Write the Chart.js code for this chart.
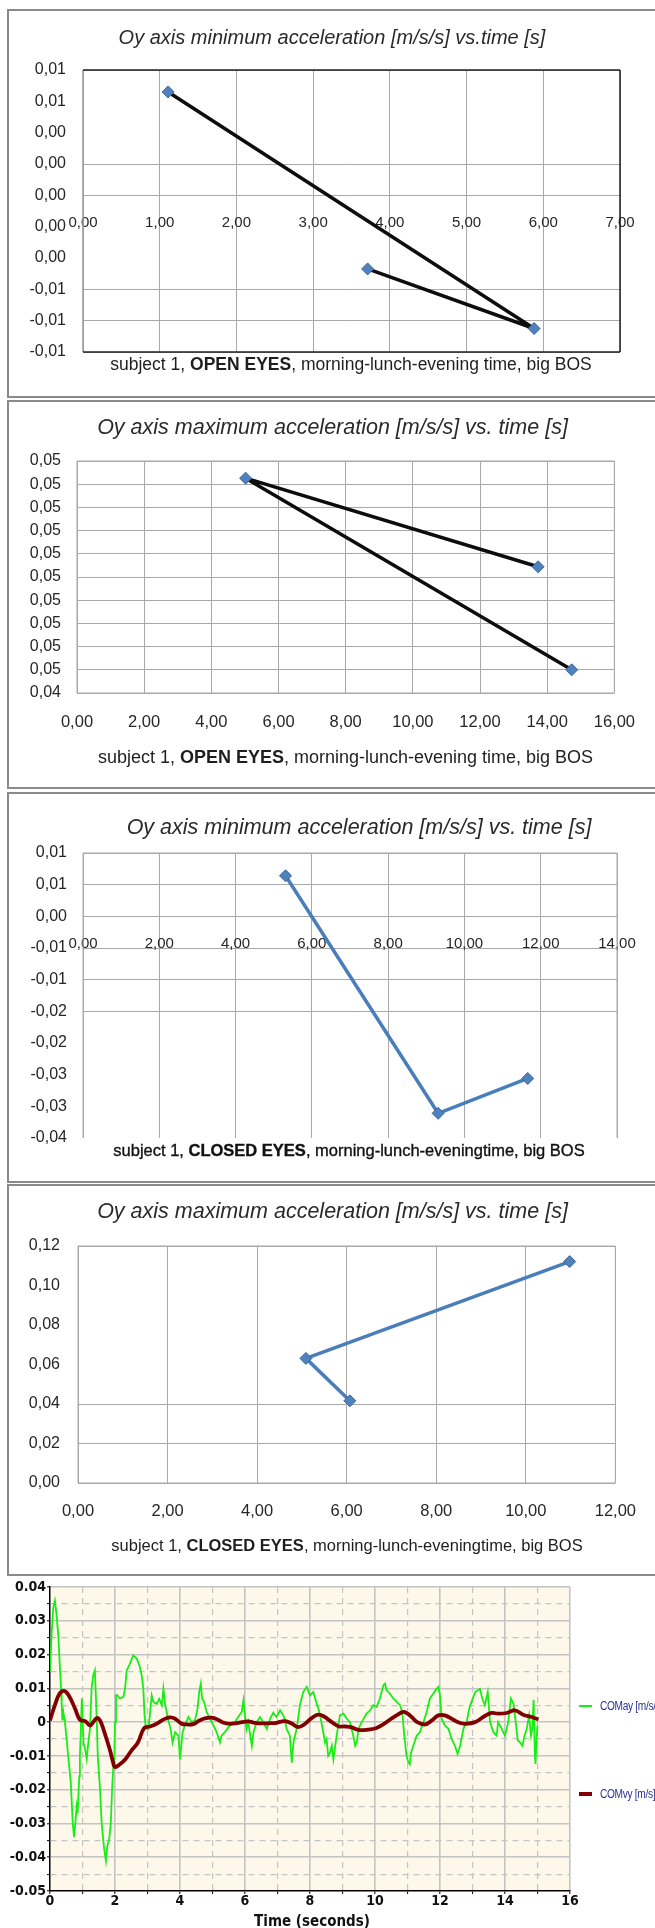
<!DOCTYPE html>
<html>
<head>
<meta charset="utf-8">
<script src="https://cdn.jsdelivr.net/npm/chart.js@4.4.1/dist/chart.umd.min.js"></script>
<style>
  html, body { margin: 0; padding: 0; background: #fff; }
  body { width: 655px; height: 1928px; position: relative; overflow: hidden;
         font-family: "Liberation Sans", Arial, sans-serif; }
  .panel { position: absolute; left: 7px; width: 720px; box-sizing: border-box;
           border: 2px solid #8a8a8a; }
  canvas { position: absolute; left: 0; }
  .txt { position: absolute; white-space: nowrap; text-align: center; line-height: 1; color: #1e1e1e; }
  .leg { position: absolute; white-space: nowrap; line-height: 1; color: #2b3391; font-size: 13px;
         font-family: "Liberation Sans", Arial, sans-serif; letter-spacing: -0.4px;
         transform: scaleX(0.78); transform-origin: 0 50%; }
  .legline { position: absolute; }
</style>
</head>
<body>
<script>
// ---- Subject 1, Oy axis extremes per session (morning / lunch / evening) ----
const openMinTime = [1.11, 5.88, 3.71];
const openMinAcc = [0.0066, -0.0085, -0.0047];

const openMaxTime = [13.73, 5.02, 14.73];
const openMaxAcc = [0.04722, 0.04913, 0.0450];

const closedMinTime = [5.31, 9.31, 11.66];
const closedMinAcc = [0.0064, -0.0311, -0.0256];

const closedMaxTime = [6.07, 5.09, 10.98];
const closedMaxAcc = [0.0416, 0.0631, 0.1121];

// ---- axis ticks and the labels printed next to them (bottom to top / left to right) ----
const openMinYTicks = [-0.010, -0.008, -0.006, -0.004, -0.002, 0, 0.002, 0.004, 0.006, 0.008];
const openMinYLabels = ['-0,01', '-0,01', '-0,01', '0,00', '0,00', '0,00', '0,00', '0,00', '0,01', '0,01'];
const openMinXTicks = [0, 1, 2, 3, 4, 5, 6, 7];
const openMinXLabels = ['0,00', '1,00', '2,00', '3,00', '4,00', '5,00', '6,00', '7,00'];

const openMaxYTicks = [0.0445, 0.0450, 0.0455, 0.0460, 0.0465, 0.0470, 0.0475, 0.0480, 0.0485, 0.0490, 0.0495];
const openMaxYLabels = ['0,04', '0,05', '0,05', '0,05', '0,05', '0,05', '0,05', '0,05', '0,05', '0,05', '0,05'];
const openMaxXTicks = [0, 2, 4, 6, 8, 10, 12, 14, 16];
const openMaxXLabels = ['0,00', '2,00', '4,00', '6,00', '8,00', '10,00', '12,00', '14,00', '16,00'];

const closedMinYTicks = [-0.035, -0.030, -0.025, -0.020, -0.015, -0.010, -0.005, 0, 0.005, 0.010];
const closedMinYLabels = ['-0,04', '-0,03', '-0,03', '-0,02', '-0,02', '-0,01', '-0,01', '0,00', '0,01', '0,01'];
const closedMinXTicks = [0, 2, 4, 6, 8, 10, 12, 14];
const closedMinXLabels = ['0,00', '2,00', '4,00', '6,00', '8,00', '10,00', '12,00', '14,00'];

const closedMaxYTicks = [0, 0.02, 0.04, 0.06, 0.08, 0.10, 0.12];
const closedMaxYLabels = ['0,00', '0,02', '0,04', '0,06', '0,08', '0,10', '0,12'];
const closedMaxXTicks = [0, 2, 4, 6, 8, 10, 12];
const closedMaxXLabels = ['0,00', '2,00', '4,00', '6,00', '8,00', '10,00', '12,00'];

// ---- centre of mass trace, 15 s recording ----
const ayTime = [0.00,0.05,0.10,0.15,0.20,0.26,0.30,0.34,0.36,0.38,0.41,0.44,0.46,0.51,0.56,0.60,0.64,0.70,0.74,0.78,
  0.82,0.85,0.90,0.92,0.95,0.98,1.00,1.03,1.08,1.13,1.18,1.23,1.28,1.33,1.38,1.41,1.44,1.47,1.54,1.59,
  1.66,1.72,1.76,1.83,1.87,1.91,1.95,1.98,2.00,2.03,2.07,2.15,2.26,2.31,2.36,2.46,2.56,2.67,2.75,2.82,
  2.87,2.91,2.95,3.03,3.13,3.18,3.28,3.36,3.44,3.49,3.54,3.59,3.64,3.71,3.77,3.85,3.95,4.00,4.08,4.15,
  4.26,4.36,4.46,4.54,4.59,4.64,4.68,4.74,4.82,4.92,5.03,5.13,5.23,5.28,5.38,5.49,5.59,5.69,5.79,5.90,
  5.95,6.00,6.05,6.10,6.21,6.26,6.36,6.46,6.56,6.67,6.77,6.87,6.97,7.08,7.18,7.23,7.28,7.38,7.44,7.49,
  7.59,7.69,7.79,7.90,8.00,8.10,8.21,8.26,8.31,8.41,8.46,8.51,8.56,8.62,8.67,8.72,8.82,8.92,9.03,9.13,
  9.23,9.33,9.39,9.44,9.49,9.59,9.74,9.85,9.95,10.05,10.15,10.26,10.31,10.36,10.46,10.56,10.67,10.77,10.84,10.90,
  10.97,11.03,11.07,11.11,11.18,11.28,11.38,11.49,11.59,11.69,11.79,11.90,11.95,12.00,12.05,12.15,12.26,12.36,12.46,12.54,
  12.62,12.72,12.82,12.90,12.97,13.08,13.16,13.23,13.30,13.38,13.47,13.54,13.64,13.74,13.79,13.90,14.00,14.10,14.18,14.26,
  14.33,14.39,14.46,14.54,14.60,14.67,14.74,14.80,14.84,14.88,14.92,14.94,14.97,15.00];
const ayValues = [0.015,0.026,0.034,0.036,0.032,0.025,0.017,0.010,0.005,0.0005,0.003,0.001,0.0,-0.005,-0.0102,-0.014,-0.018,-0.030,-0.034,-0.030,
  -0.025,-0.027,-0.016,-0.010,-0.002,0.007,0.002,-0.006,-0.008,-0.011,-0.006,-0.002,0.010,0.0139,0.0153,0.008,0.0,-0.010,-0.020,-0.030,
  -0.037,-0.041,-0.037,-0.034,-0.030,-0.020,-0.013,-0.010,0.0,0.008,0.008,0.007,0.0075,0.010,0.0153,0.0173,0.0198,0.0188,0.0168,0.0139,
  0.010,0.002,-0.002,-0.002,0.0079,0.006,0.0054,0.0069,0.005,0.0099,0.0054,0.003,0.0005,-0.002,-0.006,-0.003,-0.004,-0.011,-0.003,-0.001,
  0.0015,0.0,0.0005,0.004,0.0089,0.0114,0.007,0.006,0.003,0.001,-0.001,-0.003,-0.006,-0.004,-0.003,-0.0015,-0.0005,0.0,0.0015,0.003,
  0.0064,0.002,-0.002,0.0,-0.007,-0.003,0.0,0.0015,0.0,-0.002,0.001,0.0028,0.0015,0.0035,0.002,0.0005,-0.002,-0.004,-0.012,-0.006,
  -0.002,0.005,0.0089,0.0104,0.0079,0.0089,0.0054,0.004,0.002,-0.003,-0.006,-0.005,-0.010,-0.009,-0.007,-0.011,-0.004,0.002,0.0025,0.001,
  0.0,-0.004,-0.007,-0.006,-0.002,0.0,0.0025,0.0035,0.005,0.0045,0.007,0.0109,0.0114,0.0094,0.0084,0.007,0.006,0.005,0.003,-0.004,
  -0.010,-0.012,-0.0125,-0.009,-0.007,-0.004,-0.003,0.0,0.003,0.007,0.0084,0.0099,0.0104,0.0079,0.001,-0.001,-0.002,-0.005,-0.007,-0.0094,
  -0.007,-0.002,0.0,0.004,0.006,0.0089,0.0094,0.0099,0.007,0.005,0.0089,0.0,-0.003,-0.004,0.0,-0.002,-0.004,0.0,0.007,0.0054,
  0.0,-0.0054,-0.006,-0.007,-0.004,-0.002,0.002,-0.004,-0.002,0.0066,-0.010,-0.0124,-0.005,-0.001];

const vyTime = [0.00,0.15,0.30,0.45,0.60,0.77,0.92,1.08,1.23,1.33,1.44,1.54,1.64,1.74,1.85,1.93,2.00,2.15,2.32,2.50,
  2.70,2.90,3.08,3.28,3.50,3.69,3.85,4.05,4.20,4.41,4.60,4.80,4.97,5.15,5.35,5.54,5.75,5.90,6.10,6.30,
  6.56,6.80,6.97,7.23,7.45,7.64,7.85,8.05,8.26,8.46,8.60,8.87,9.08,9.26,9.49,9.80,10.03,10.20,10.50,10.70,
  10.87,11.00,11.13,11.30,11.54,11.75,11.95,12.15,12.41,12.60,12.77,13.08,13.38,13.59,13.79,14.05,14.30,14.56,14.82,15.03];
const vyValues = [0.0005,0.005,0.0085,0.0092,0.0075,0.004,0.0007,0.0003,-0.001,0.0,0.0012,0.0005,-0.002,-0.005,-0.0085,-0.0115,-0.0133,-0.0125,-0.011,-0.0085,
  -0.0061,-0.0017,-0.0013,-0.0005,0.0008,0.0014,0.001,-0.0005,-0.0007,-0.0006,0.0005,0.0012,0.0013,0.0008,-0.0002,-0.0005,-0.0003,0.0,0.0002,-0.0002,
  -0.0004,-0.0003,-0.0002,0.0003,-0.0005,-0.0015,-0.0005,0.0012,0.0022,0.0015,0.0005,-0.0012,-0.0013,-0.0015,-0.0023,-0.0022,-0.0018,-0.001,0.001,0.0022,
  0.003,0.0025,0.0015,0.0,-0.0007,0.0005,0.002,0.002,0.0007,-0.0002,-0.0005,0.0,0.0018,0.0027,0.0025,0.0027,0.0035,0.0022,0.0015,0.0008];

const comYTicks = [-0.05,-0.045,-0.04,-0.035,-0.03,-0.025,-0.02,-0.015,-0.01,-0.005,0,0.005,0.01,0.015,0.02,0.025,0.03,0.035,0.04];
const comYLabels = ['-0.05','','-0.04','','-0.03','','-0.02','','-0.01','','0','','0.01','','0.02','','0.03','','0.04'];
const comXTicks = [0,1,2,3,4,5,6,7,8,9,10,11,12,13,14,15,16];
const comXLabels = ['0','','2','','4','','6','','8','','10','','12','','14','','16'];

// ---------------------------------------------------------------------------
const W = 655;
const FONT = '"Liberation Sans", Arial, sans-serif';
const NARROW = '"Liberation Sans Narrow", "DejaVu Sans Condensed", "Liberation Sans", sans-serif';
const GRID = '#a9a9a9';
const TXT = '#262626';
const CLEAR = 'rgba(0,0,0,0)';

function addBox(top, height) {
  const d = document.createElement('div');
  d.className = 'panel';
  d.style.top = top + 'px';
  d.style.height = height + 'px';
  document.body.appendChild(d);
}

function addText(html, cx, cy, size, style) {
  const d = document.createElement('div');
  d.className = 'txt';
  d.innerHTML = html;
  d.style.left = (cx - 320) + 'px';
  d.style.width = '640px';
  d.style.top = (cy - size * 0.5) + 'px';
  d.style.fontSize = size + 'px';
  Object.assign(d.style, style || {});
  document.body.appendChild(d);
}

function mount(top, height) {
  const c = document.createElement('canvas');
  c.width = W;
  c.height = height;
  c.style.top = top + 'px';
  document.body.appendChild(c);
  return c.getContext('2d');
}

const pts = (xs, ys) => xs.map((x, i) => ({ x, y: ys[i] }));
const fixedTicks = values => scale => { scale.ticks = values.map(v => ({ value: v })); };
function labelFor(values, labels) {
  return v => {
    let k = 0, best = Infinity;
    values.forEach((t, i) => { const e = Math.abs(t - v); if (e < best) { best = e; k = i; } });
    return labels[k];
  };
}

// fills the plot area and strokes the requested sides of its outline
function framePlugin(opts) {
  return {
    id: 'frame',
    beforeDraw(chart) {
      if (!opts.fill) return;
      const a = chart.chartArea, g = chart.ctx;
      g.save();
      g.fillStyle = opts.fill;
      g.fillRect(a.left, a.top, a.right - a.left, a.bottom - a.top);
      g.restore();
    },
    beforeDatasetsDraw(chart) {
      if (!opts.sides) return;
      const a = chart.chartArea, g = chart.ctx;
      const seg = { t: [a.left, a.top, a.right, a.top], b: [a.left, a.bottom, a.right, a.bottom],
                    l: [a.left, a.top, a.left, a.bottom], r: [a.right, a.top, a.right, a.bottom] };
      g.save();
      g.lineWidth = opts.width || 1;
      Object.keys(opts.sides).forEach(k => {
        const s = seg[k];
        g.strokeStyle = opts.sides[k];
        g.beginPath();
        g.moveTo(s[0], s[1]);
        g.lineTo(s[2], s[3]);
        g.stroke();
      });
      g.restore();
    }
  };
}

function excelPanel(p) {
  const ctx = mount(p.top, p.height);
  const bottomSpace = p.top + p.height - p.area.b;
  new Chart(ctx, {
    type: 'scatter',
    data: {
      datasets: [{
        data: pts(p.xData, p.yData),
        showLine: true,
        borderColor: p.lineColor,
        borderWidth: 3.5,
        borderJoinStyle: 'round',
        borderCapStyle: 'round',
        tension: 0,
        pointStyle: 'rectRot',
        pointRadius: 6,
        pointBackgroundColor: '#4f81bd',
        pointBorderColor: '#3a679c',
        pointBorderWidth: 1
      }]
    },
    options: {
      responsive: false,
      animation: false,
      devicePixelRatio: 1,
      layout: { padding: { left: 0, top: p.area.t - p.top, right: W - p.area.r, bottom: p.xAtZero ? bottomSpace : 0 } },
      plugins: { legend: { display: false }, tooltip: { enabled: false } },
      scales: {
        x: {
          type: 'linear',
          min: p.xTicks[0], max: p.xTicks[p.xTicks.length - 1],
          position: p.xAtZero ? { y: 0 } : 'bottom',
          afterBuildTicks: fixedTicks(p.xTicks),
          afterFit: s => { if (!p.xAtZero) s.height = bottomSpace; },
          grid: { color: GRID, lineWidth: 1, drawTicks: false },
          border: { display: false },
          ticks: { autoSkip: false, maxRotation: 0, padding: p.xPad, color: TXT,
                   font: { family: FONT, size: p.xFont }, callback: labelFor(p.xTicks, p.xLabels) }
        },
        y: {
          type: 'linear',
          min: p.yTicks[0], max: p.yTicks[p.yTicks.length - 1],
          position: 'left',
          afterBuildTicks: fixedTicks(p.yTicks),
          afterFit: s => { s.width = p.area.l; },
          grid: { color: c => (c.tick && p.yGrid[c.index]) ? GRID : CLEAR, lineWidth: 1, drawTicks: false },
          border: { display: false },
          ticks: { autoSkip: false, padding: p.yPad, color: TXT,
                   font: { family: FONT, size: 16 }, callback: labelFor(p.yTicks, p.yLabels) }
        }
      }
    },
    plugins: [framePlugin({ sides: p.frame, width: p.frameWidth || 1 })]
  });
}

// ---- panel 1 : open eyes, minimum ----
addBox(9, 389);
excelPanel({
  top: 9, height: 389, area: { l: 83, r: 620, t: 70, b: 352 },
  xData: openMinTime, yData: openMinAcc, lineColor: '#0d0d0d',
  xTicks: openMinXTicks, xLabels: openMinXLabels, xFont: 15, xPad: 19, xAtZero: true,
  yTicks: openMinYTicks, yLabels: openMinYLabels, yPad: 17,
  yGrid: [1, 1, 1, 0, 0, 1, 1, 0, 0, 1],
  frame: { l: '#9a9a9a', t: '#1f1f1f', r: '#1f1f1f', b: '#1f1f1f' }, frameWidth: 1.5
});
addText('Oy axis minimum acceleration [m/s/s] vs.time [s]', 332, 37, 20, { fontStyle: 'italic', color: '#2a2a2a' });
addText('subject 1, <b>OPEN EYES</b>, morning-lunch-evening time, big BOS', 351, 365, 17.5);

// ---- panel 2 : open eyes, maximum ----
addBox(400, 389);
excelPanel({
  top: 400, height: 389, area: { l: 77, r: 616, t: 461, b: 693 },
  xData: openMaxTime, yData: openMaxAcc, lineColor: '#0d0d0d',
  xTicks: openMaxXTicks, xLabels: openMaxXLabels, xFont: 16.5, xPad: 20, xAtZero: false,
  yTicks: openMaxYTicks, yLabels: openMaxYLabels, yPad: 16,
  yGrid: [1, 1, 1, 1, 1, 1, 1, 1, 1, 1, 1],
  frame: { l: GRID, t: GRID, r: GRID, b: GRID }
});
addText('Oy axis maximum acceleration [m/s/s] vs. time [s]', 332.5, 428, 21.5, { fontStyle: 'italic', color: '#2a2a2a' });
addText('subject 1, <b>OPEN EYES</b>, morning-lunch-evening time, big BOS', 345.5, 757, 18);

// ---- panel 3 : closed eyes, minimum ----
addBox(792, 391);
excelPanel({
  top: 792, height: 391, area: { l: 83, r: 617, t: 853, b: 1138 },
  xData: closedMinTime, yData: closedMinAcc, lineColor: '#4a7ebb',
  xTicks: closedMinXTicks, xLabels: closedMinXLabels, xFont: 15, xPad: 19, xAtZero: true,
  yTicks: closedMinYTicks, yLabels: closedMinYLabels, yPad: 16,
  yGrid: [0, 0, 0, 0, 1, 1, 1, 1, 1, 1],
  frame: { l: GRID, t: GRID, r: GRID }
});
addText('Oy axis minimum acceleration [m/s/s] vs. time [s]', 359, 828, 21.5, { fontStyle: 'italic', color: '#2a2a2a' });
addText('subject 1, <b>CLOSED EYES</b>, morning-lunch-eveningtime, big BOS', 349, 1150, 16.5,
        { color: '#111', webkitTextStroke: '0.35px #111' });

// ---- panel 4 : closed eyes, maximum ----
addBox(1184, 392);
excelPanel({
  top: 1184, height: 392, area: { l: 78, r: 616, t: 1246, b: 1483 },
  xData: closedMaxTime, yData: closedMaxAcc, lineColor: '#4a7ebb',
  xTicks: closedMaxXTicks, xLabels: closedMaxXLabels, xFont: 16.5, xPad: 19, xAtZero: false,
  yTicks: closedMaxYTicks, yLabels: closedMaxYLabels, yPad: 18,
  yGrid: [1, 1, 1, 0, 0, 0, 1],
  frame: { l: GRID, t: GRID, r: GRID, b: GRID }
});
addText('Oy axis maximum acceleration [m/s/s] vs. time [s]', 332.5, 1212, 21.5, { fontStyle: 'italic', color: '#2a2a2a' });
addText('subject 1, <b>CLOSED EYES</b>, morning-lunch-eveningtime, big BOS', 347, 1545, 16.5);

// ---- panel 5 : COM acceleration and velocity over time ----
(function () {
  const top = 1570, height = 358;
  const area = { l: 50, r: 570, t: 1587, b: 1891 };
  const ctx = mount(top, height);
  const minorDash = c => (c.tick && c.index % 2 === 1) ? [6, 5] : [];
  const gridColor = c => (c.tick && c.index === 0) ? CLEAR : '#c4c4c4';
  new Chart(ctx, {
    type: 'scatter',
    data: {
      datasets: [
        { label: 'COMvy [m/s]', data: pts(vyTime, vyValues), showLine: true, borderColor: '#800000',
          borderWidth: 3.8, tension: 0.4, pointRadius: 0, order: 0 },
        { label: 'COMay [m/s/s]', data: pts(ayTime, ayValues), showLine: true, borderColor: '#16ee16',
          borderWidth: 1.8, tension: 0, pointRadius: 0, order: 1 }
      ]
    },
    options: {
      responsive: false,
      animation: false,
      devicePixelRatio: 1,
      layout: { padding: { left: 0, top: area.t - top, right: W - area.r, bottom: 0 } },
      plugins: { legend: { display: false }, tooltip: { enabled: false } },
      scales: {
        x: {
          type: 'linear', min: 0, max: 16, position: 'bottom',
          afterBuildTicks: fixedTicks(comXTicks),
          afterFit: s => { s.height = top + height - area.b; },
          grid: { color: gridColor, lineWidth: c => (c.tick && c.index % 2 === 1) ? 1.2 : 1.6,
                  drawTicks: true, tickLength: 3, tickColor: '#000', tickWidth: 1 },
          border: { display: true, color: '#000', width: 1.5, dash: minorDash },
          ticks: { autoSkip: false, maxRotation: 0, padding: 0, color: '#111',
                   font: { family: NARROW, size: 14, weight: 'bold', lineHeight: 1 },
                   callback: labelFor(comXTicks, comXLabels) }
        },
        y: {
          type: 'linear', min: -0.05, max: 0.04, position: 'left',
          afterBuildTicks: fixedTicks(comYTicks),
          afterFit: s => { s.width = area.l; },
          grid: { color: gridColor, lineWidth: c => (c.tick && c.index % 2 === 1) ? 1.2 : 1.6,
                  drawTicks: true, tickLength: 3, tickColor: '#000', tickWidth: 1 },
          border: { display: true, color: '#000', width: 1.5, dash: minorDash },
          ticks: { autoSkip: false, padding: 1, color: '#111',
                   font: { family: NARROW, size: 14, weight: 'bold', lineHeight: 1 },
                   callback: labelFor(comYTicks, comYLabels) }
        }
      }
    },
    plugins: [framePlugin({ fill: '#fdf8ea' })]
  });

  addText('Time (seconds)', 312, 1921, 15, { fontWeight: 'bold', fontFamily: NARROW, color: '#111' });

  // series key
  const key = [
    { text: 'COMay [m/s/s]', color: '#16ee16', y: 1706, thick: 2 },
    { text: 'COMvy [m/s]', color: '#800000', y: 1794, thick: 4 }
  ];
  key.forEach(k => {
    const ln = document.createElement('div');
    ln.className = 'legline';
    Object.assign(ln.style, { left: '579px', width: '13px', top: (k.y - k.thick / 2) + 'px',
                              height: k.thick + 'px', background: k.color });
    document.body.appendChild(ln);
    const t = document.createElement('div');
    t.className = 'leg';
    t.textContent = k.text;
    Object.assign(t.style, { left: '600px', top: (k.y - 7) + 'px' });
    document.body.appendChild(t);
  });
})();
</script>
</body>
</html>
